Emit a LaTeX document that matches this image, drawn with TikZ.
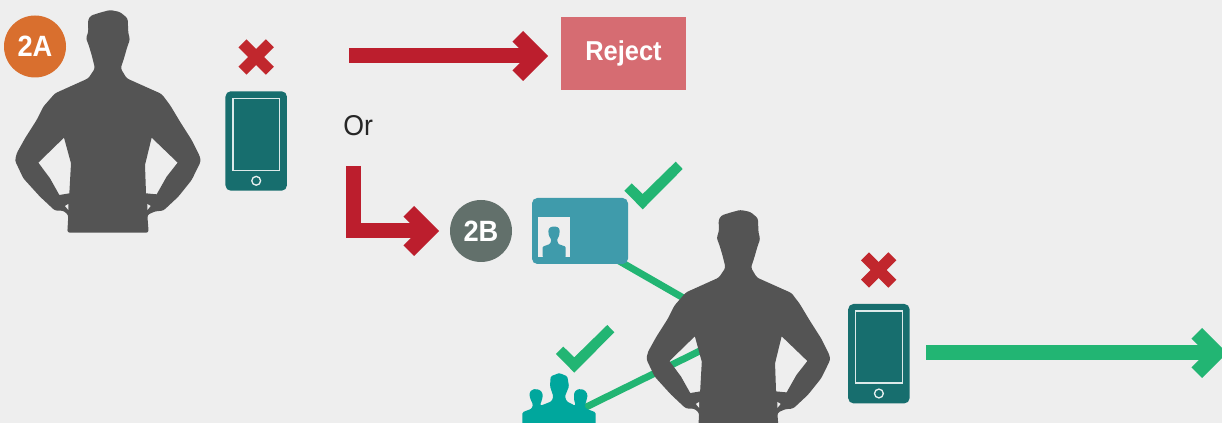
\documentclass[tikz,border=0pt]{standalone}
\usepackage{fontspec}
\setmainfont[FakeStretch=0.93]{Liberation Sans}
\usetikzlibrary{arrows.meta}
\definecolor{bgc}{HTML}{EEEEEE}
\definecolor{manc}{HTML}{545454}
\definecolor{redc}{HTML}{BC1E2D}
\definecolor{xredc}{HTML}{C1272D}
\definecolor{greenc}{HTML}{22B573}
\definecolor{phonec}{HTML}{176E6E}
\definecolor{cardc}{HTML}{3F9BAB}
\definecolor{peoplec}{HTML}{00A79D}
\definecolor{rejectc}{HTML}{D66C72}
\definecolor{orangec}{HTML}{D96F2E}
\definecolor{slatec}{HTML}{62706B}
\pgfdeclarearrow{
  name=Chev,
  setup code={
    \pgfarrowssettipend{0pt}
    \pgfarrowssetlineend{-14pt}
    \pgfarrowssetvisualbackend{-27pt}
    \pgfarrowssetbackend{-27pt}
  },
  drawing code={
    \pgfpathmoveto{\pgfqpoint{0pt}{0pt}}
    \pgfpathlineto{\pgfqpoint{-18.75pt}{18.75pt}}
    \pgfpathlineto{\pgfqpoint{-26.7pt}{10.8pt}}
    \pgfpathlineto{\pgfqpoint{-15.9pt}{0pt}}
    \pgfpathlineto{\pgfqpoint{-26.7pt}{-10.8pt}}
    \pgfpathlineto{\pgfqpoint{-18.75pt}{-18.75pt}}
    \pgfpathclose
    \pgfusepathqfill
  }
}
\tikzset{
  x=.75pt,y=-.75pt,
  thickarrow/.style={line width=11.25pt,line join=miter,-{Chev}},
  redarrow/.style={thickarrow,draw=redc},
  greenarrow/.style={thickarrow,draw=greenc},
  greenlink/.style={draw=greenc,line width=5.2pt},
  badge/.style={circle,minimum size=46.5pt,inner sep=0pt,text=white,font=\fontsize{22}{24}\selectfont\bfseries},
  phonebody/.style={rectangle,rounded corners=4pt,fill=phonec,minimum width=46.1pt,minimum height=74.6pt,inner sep=0pt},
  phonescreen/.style={rectangle,draw=white!85!phonec,line width=1pt,minimum width=35pt,minimum height=54pt,inner sep=0pt},
  phonebutton/.style={circle,draw=white!90!phonec,line width=1pt,minimum size=6.6pt,inner sep=0pt},
  xbar/.style={draw=xredc,line width=8.5pt},
  zoomunits/.style={x=.25pt,y=-.25pt},
  phone/.pic={
    \node[phonebody] (-body) at (0,0) {};
    \node[phonescreen] (-screen) at (0,-6.6) {};
    \node[phonebutton] (-button) at (0,39.8) {};
  },
  xmark/.pic={
    \draw[xbar] (-13.7,-13.7) -- (13.7,13.7);
    \draw[xbar] (13.7,-13.7) -- (-13.7,13.7);
  },
  checkmark/.pic={
    \fill[greenc,zoomunits] (-55,-10) -- (-33,-32) -- (0,0) -- (99,-97) -- (120,-75) -- (0,46) -- cycle;
  },
  smallperson/.pic={
    \fill[cardc,zoomunits,rounded corners=.7pt]
      (38,187) -- (38,155) -- (60,147) -- (64,135) -- (56,120) -- (55,105) -- (60,97) -- (72,94) -- (85,97) -- (89,105) -- (88,120) -- (81,135) -- (85,147) -- (107,155) -- (107,187) -- cycle;
  },
  peopleicon/.pic={
    \fill[peoplec,zoomunits,rounded corners=1pt]
      (37,190) -- (37,148) -- (65,137) -- (69,125) -- (60,105) -- (58,90) -- (66,80) -- (78,78) -- (92,82) -- (99,95) -- (96,110) -- (90,127) -- (92,128) -- (125,115) -- (130,100) -- (120,70) -- (122,40) -- (148,30) -- (172,40) -- (177,70) -- (165,100) -- (170,115) -- (195,128) -- (197,127) -- (192,110) -- (192,90) -- (200,80) -- (212,78) -- (225,82) -- (233,95) -- (230,110) -- (224,130) -- (228,137) -- (257,148) -- (257,190) -- cycle;
  },
  man/.pic={
    \fill[manc,even odd rule,zoomunits,rounded corners=1.8pt]
      (285,205) -- (275,165) -- (266,135) -- (258,115) -- (265,95) -- (264,60) -- (272,47) -- (300,38) -- (330,30) -- (360,36) -- (383,55) -- (385,100) -- (390,118) -- (382,140) -- (372,175) -- (362,205)
      -- (380,235) -- (485,282) -- (510,315) -- (540,365) -- (575,420) -- (600,470) -- (602,485) -- (575,540) -- (535,590) -- (490,632) -- (465,634) -- (442,645) -- (446,698)
      -- (202,698) -- (205,645) -- (190,632) -- (165,632) -- (120,590) -- (70,535) -- (45,482) -- (50,460) -- (75,415) -- (110,360) -- (130,320) -- (165,280) -- (265,235) -- cycle
      [sharp corners]
      (192,413) -- (115,488) -- (150,535) -- (178,585) -- (208,580) -- (213,490) -- cycle
      (455,413) -- (533,488) -- (500,530) -- (470,583) -- (438,580) -- (435,495) -- cycle;
    \fill[bgc,zoomunits] (195,618) -- (205,612) -- (205,630) -- cycle (452,618) -- (442,612) -- (442,630) -- cycle;
  }
}
\begin{document}
\begin{tikzpicture}
\fill[bgc] (0,0) rectangle (1222,423);
\useasboundingbox (0,0) rectangle (1222,423);
\clip (0,0) rectangle (1222,423);

\coordinate (upstart) at (349,56);
\coordinate (lstart) at (353.5,166);
\coordinate (gstart) at (926,353);
\coordinate (gend) at (1227,353);
\coordinate (cardlink) at (600,250);
\coordinate (manlinka) at (720,319);
\coordinate (peoplelink) at (570,415);
\coordinate (manlinkb) at (720,341);

\draw[greenlink] (cardlink) -- (manlinka);
\draw[greenlink] (peoplelink) -- (manlinkb);

\node[fill=rejectc,minimum width=93.75pt,minimum height=54.75pt,inner sep=0pt,text=white,font=\fontsize{20.5}{24}\selectfont\bfseries] (reject) at (623.5,53.5) {Reject};
\node[text=black!85,inner sep=0pt,anchor=base west,font=\fontsize{21.5}{24}\selectfont] (ortext) at (343,136) {Or};
\node[badge,fill=orangec] (badgea) at (35,46.5) {2A};
\node[badge,fill=slatec] (badgeb) at (481,231) {2B};

\draw[redarrow] (upstart) -- ([xshift=-9.5pt]reject.west |- upstart);
\draw[redarrow] (lstart) |- ([xshift=-8pt]badgeb.west);
\draw[greenarrow] (gstart) -- (gend);

\pic at (0,0) {man};
\pic[scale=.99] at (631.5,200) {man};

\pic (phonea) at (256.2,141) {phone};
\pic (phoneb) at (878.9,353.7) {phone};
\pic at (256.2,57) {xmark};
\pic at (878.7,270) {xmark};

\node[rectangle,rounded corners=4pt,fill=cardc,minimum width=72pt,minimum height=49.5pt,inner sep=0pt] (card) at (580,231) {};
\node[rectangle,fill=bgc,minimum width=24.2pt,minimum height=30.2pt,inner sep=0pt] (photo) at (554.2,237.2) {};
\pic at (530,195) {smallperson};

\pic at (642.7,194) {checkmark};
\pic at (574.3,357.3) {checkmark};

\pic at (510,363) {peopleicon};
\end{tikzpicture}
\end{document}
